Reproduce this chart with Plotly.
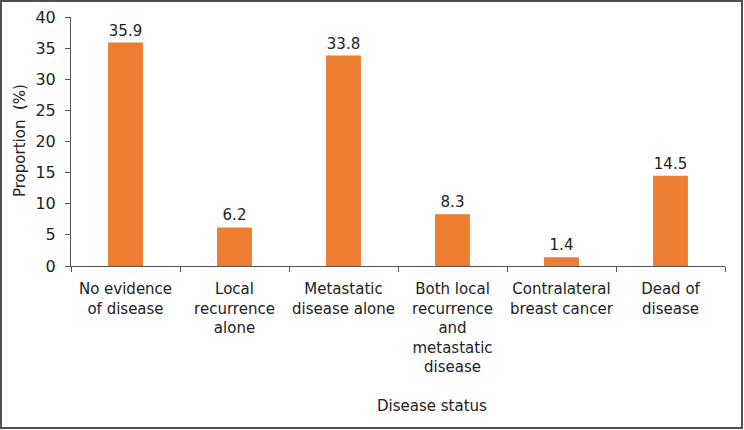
import plotly.graph_objects as go

categories = ["No evidence<br>of disease", "Local<br>recurrence<br>alone", "Metastatic<br>disease alone",
              "Both local<br>recurrence<br>and<br>metastatic<br>disease", "Contralateral<br>breast cancer",
              "Dead of<br>disease"]
values = [35.9, 6.2, 33.8, 8.3, 1.4, 14.5]
y_ticks = [0, 5, 10, 15, 20, 25, 30, 35, 40]

W, H = 744, 430
ml, mr, mt, mb = 71, 19, 17, 164
pw, ph = W - ml - mr, H - mt - mb

font = dict(family="DejaVu Sans, Verdana, sans-serif", size=15, color="#222")

fig = go.Figure(go.Bar(
    x=categories, y=values,
    marker=dict(color="#ED7D31", line=dict(width=0)),
    text=[f"{v:.1f}" for v in values], textposition="outside",
    textfont=dict(size=15, color="#222"), cliponaxis=False,
    width=0.32,
))

fig.update_layout(
    width=W, height=H,
    margin=dict(l=ml, r=mr, t=mt, b=mb, autoexpand=False),
    paper_bgcolor="white", plot_bgcolor="white",
    font=font, showlegend=False,
    xaxis=dict(showline=True, linecolor="#555", linewidth=1, ticks="outside",
               tickson="boundaries", ticklen=5, tickcolor="#555", showgrid=False,
               tickangle=0, automargin=False, ticklabelstandoff=9,
               tickfont=dict(size=15, color="#222")),
    yaxis=dict(range=[0, 40], tickvals=y_ticks, showline=True, linecolor="#555", linewidth=1,
               ticks="outside", ticklen=5, tickcolor="#555", showgrid=False, zeroline=False,
               automargin=False, ticklabelstandoff=6, tickfont=dict(size=16, color="#222")),
    shapes=[dict(type="rect", xref="paper", yref="paper",
                 x0=(1 - ml) / pw, x1=(W - ml - 2) / pw,
                 y0=-(mb - 2) / ph, y1=(H - mb - 1) / ph,
                 line=dict(color="#505050", width=2))],
    annotations=[
        dict(text="Disease status", xref="paper", yref="paper",
             x=(432 - ml) / pw, y=-(406 - mt - ph) / ph, yanchor="middle", xanchor="center",
             showarrow=False, font=dict(size=15, color="#222")),
        dict(text="Proportion  (%)", xref="paper", yref="paper", textangle=-90,
             x=(20 - ml) / pw, y=(H - mb - 141) / ph, xanchor="center", yanchor="middle",
             showarrow=False, font=dict(size=15, color="#222")),
    ],
)

fig.write_html("out.html", config={"displayModeBar": False},
               post_script="document.body.style.margin='0';document.body.style.overflow='hidden';")
